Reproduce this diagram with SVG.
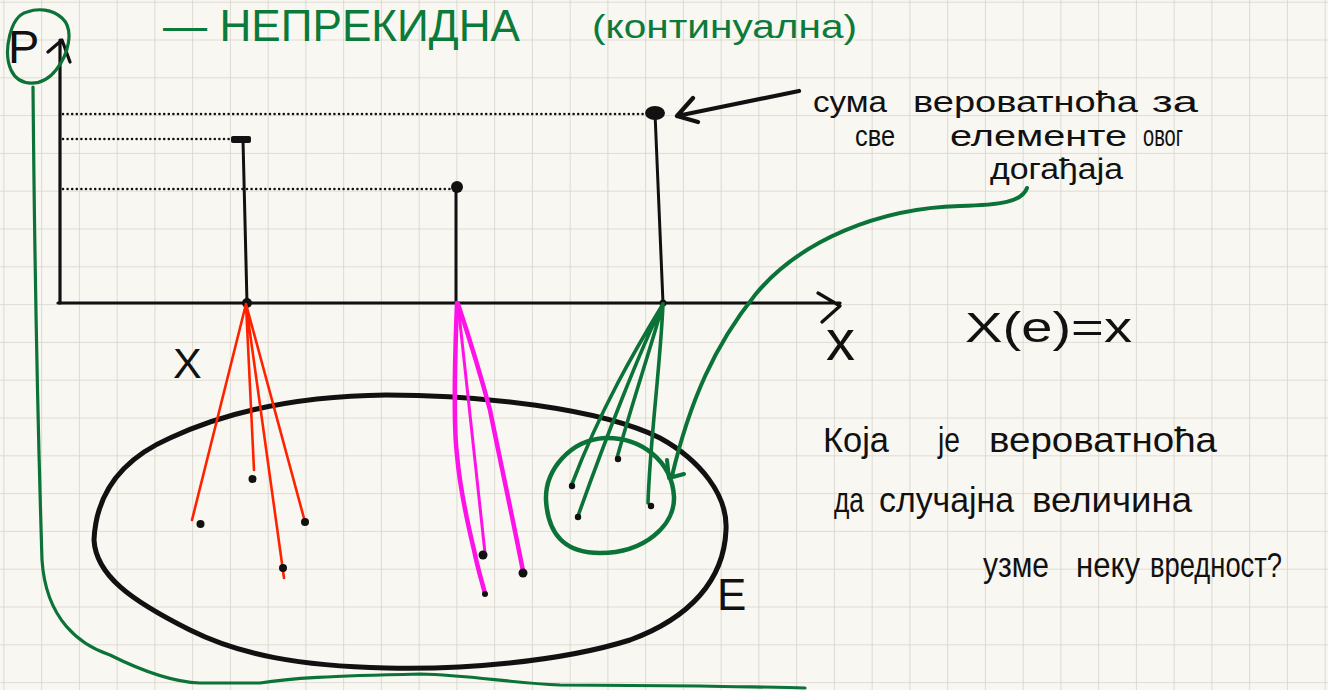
<svg xmlns="http://www.w3.org/2000/svg" width="1328" height="690" viewBox="0 0 1328 690">
<defs>
<pattern id="grid" patternUnits="userSpaceOnUse" x="3.4" y="1.7" width="37.75" height="37.8">
<path d="M0,0 V37.8 M0,0 H37.75" fill="none" stroke="#d6d3cc" stroke-width="1.6"/>
</pattern>
<style>
.ink{fill:none;stroke:#111;stroke-linecap:round;stroke-linejoin:round}
.grn{fill:none;stroke:#0b7238;stroke-linecap:round;stroke-linejoin:round}
.red{fill:none;stroke:#ff2200;stroke-width:2.6;stroke-linecap:round}
.mag{fill:none;stroke:#ff12e8;stroke-linecap:round}
.dot{fill:#111}
.dotted{fill:none;stroke:#111;stroke-width:2.6;stroke-dasharray:0 4.6;stroke-linecap:round}
.t{font-family:"Liberation Sans","Noto Sans",sans-serif;fill:#111}
.tg{font-family:"Liberation Sans","Noto Sans",sans-serif;fill:#0b7a3b}
.n1{font-size:29px}
.n2{font-size:35px}
</style>
</defs>
<rect width="1328" height="690" fill="#f9f7f1"/>
<rect width="1328" height="690" fill="url(#grid)"/>

<g id="title">
<text class="tg" x="163" y="41" font-size="45" textLength="357" lengthAdjust="spacingAndGlyphs">— НЕПРЕКИДНА</text>
<text class="tg" x="592" y="38" font-size="34" textLength="265" lengthAdjust="spacingAndGlyphs">(континуална)</text>
</g>

<g id="axes">
<path class="ink" stroke-width="3.2" d="M60,303 V40 M48,52 L62,40 L70,62"/>
<path class="ink" stroke-width="3.2" d="M58,303 H840 M818,293 L840,306 L822,322"/>
<text class="t" x="8" y="63" font-size="47">P</text>
<text class="t" x="826" y="360" font-size="58">x</text>
</g>

<g id="stems">
<path class="dotted" d="M63,114 H645 M63,139 H232 M63,189 H451"/>
<path class="ink" stroke-width="3" d="M243,140 L247,303 M456,188 V303 M655,113 L663,303"/>
<rect class="dot" x="231" y="136" width="20" height="7" rx="2"/>
<circle class="dot" cx="457" cy="187" r="6"/>
<ellipse class="dot" cx="655" cy="113" rx="10" ry="7"/>
<circle class="dot" cx="247" cy="303" r="5"/>
<circle class="dot" cx="663" cy="303" r="3.5"/>
</g>

<g id="event-E">
<path class="ink" stroke-width="5" d="M94,540 C96,495 120,460 170,438 C230,410 300,396 386,395 C480,395 600,408 660,438 C700,460 728,495 726,530 C724,580 690,618 630,640 C560,662 460,670 386,668 C300,666 240,655 190,630 C130,600 96,575 94,540 Z"/>
<text class="t" x="717" y="610" font-size="44">E</text>
<text class="t" x="173" y="378" font-size="43">X</text>
</g>

<g id="connectors">
<g id="red-map">
<path class="red" d="M246,304 L192,520 M246,304 L254,470 M246,304 L284,578 M246,304 L305,522"/>
<circle class="dot" cx="200.5" cy="524" r="4"/>
<circle class="dot" cx="252.5" cy="479" r="4"/>
<circle class="dot" cx="283" cy="568" r="4"/>
<circle class="dot" cx="305" cy="522" r="4"/>
</g>
<g id="magenta-map">
<path class="mag" stroke-width="4.5" d="M457,303 C454,380 454,430 457,455 C460,490 468,525 474,550 C478,570 483,585 485,594"/>
<path class="mag" stroke-width="3" d="M458,304 L485,553"/>
<path class="mag" stroke-width="4.5" d="M458,304 C470,340 482,380 490,410 C500,460 510,505 523,571"/>
<circle class="dot" cx="483" cy="555" r="4.5"/>
<circle class="dot" cx="523" cy="573" r="4.5"/>
<circle class="dot" cx="485" cy="594" r="3"/>
</g>
<g id="green-map">
<path class="grn" stroke-width="3.6" d="M663,304 C635,350 600,410 572,484 M663,304 C640,350 605,440 578,516 M663,304 C650,350 630,410 617,458 M663,304 C660,370 650,440 648,503"/>
<circle class="dot" cx="572" cy="486" r="3.2"/>
<circle class="dot" cx="578" cy="517" r="3.2"/>
<circle class="dot" cx="618" cy="459" r="3.2"/>
<circle class="dot" cx="651" cy="506" r="3.2"/>
<path class="grn" stroke-width="4.5" d="M546,500 C545,470 570,440 605,438 C640,437 672,460 674,497 C675,525 645,553 600,553 C565,553 548,535 546,500 Z"/>
</g>
<path id="green-arrow" class="grn" stroke-width="4" d="M1027,188 C1022,202 1000,205 960,206 C880,208 800,240 755,295 C715,345 690,400 672,476 M667,460 L669,478 L684,474"/>
<path id="black-arrow" class="ink" stroke-width="4.2" d="M799,91 L677,116 M693,98 L677,116 L698,122"/>
<path id="p-loop" class="grn" stroke-width="3.2" d="M27,12 C10,16 3,52 11,70 C19,87 42,88 56,70 C68,55 75,30 62,18 C52,9 38,8 27,12 Z M33,87 C34,200 37,400 42,560 C46,620 80,645 110,655 C140,670 170,682 200,683 L260,683 C290,678 330,676 420,674 C470,675 510,683 560,685 L700,686 C750,687 780,687 805,688"/>
</g>

<g id="note-sum">
<text class="t n1" x="813" y="112" textLength="74" lengthAdjust="spacingAndGlyphs">сума</text>
<text class="t n1" x="913" y="112" textLength="225" lengthAdjust="spacingAndGlyphs">вероватноћа</text>
<text class="t n1" x="1152" y="112" textLength="46" lengthAdjust="spacingAndGlyphs">за</text>
<text class="t n1" x="855" y="146" textLength="40" lengthAdjust="spacingAndGlyphs">све</text>
<text class="t n1" x="950" y="146" textLength="177" lengthAdjust="spacingAndGlyphs">елементе</text>
<text class="t n1" x="1143" y="146" textLength="40" lengthAdjust="spacingAndGlyphs">овог</text>
<text class="t n1" x="990" y="179" textLength="133" lengthAdjust="spacingAndGlyphs">догађаја</text>
</g>

<g id="note-formula">
<text class="t" x="965" y="342" font-size="42" textLength="167" lengthAdjust="spacingAndGlyphs">X(e)=x</text>
</g>

<g id="note-question">
<text class="t n2" x="823" y="452" textLength="66" lengthAdjust="spacingAndGlyphs">Која</text>
<text class="t n2" x="938" y="452" textLength="22" lengthAdjust="spacingAndGlyphs">је</text>
<text class="t n2" x="989" y="452" textLength="228" lengthAdjust="spacingAndGlyphs">вероватноћа</text>
<text class="t n2" x="834" y="512" textLength="30" lengthAdjust="spacingAndGlyphs">да</text>
<text class="t n2" x="879" y="512" textLength="135" lengthAdjust="spacingAndGlyphs">случајна</text>
<text class="t n2" x="1032" y="512" textLength="160" lengthAdjust="spacingAndGlyphs">величина</text>
<text class="t n2" x="983" y="577" textLength="66" lengthAdjust="spacingAndGlyphs">узме</text>
<text class="t n2" x="1076" y="577" textLength="64" lengthAdjust="spacingAndGlyphs">неку</text>
<text class="t n2" x="1150" y="577" textLength="132" lengthAdjust="spacingAndGlyphs">вредност?</text>
</g>
</svg>
